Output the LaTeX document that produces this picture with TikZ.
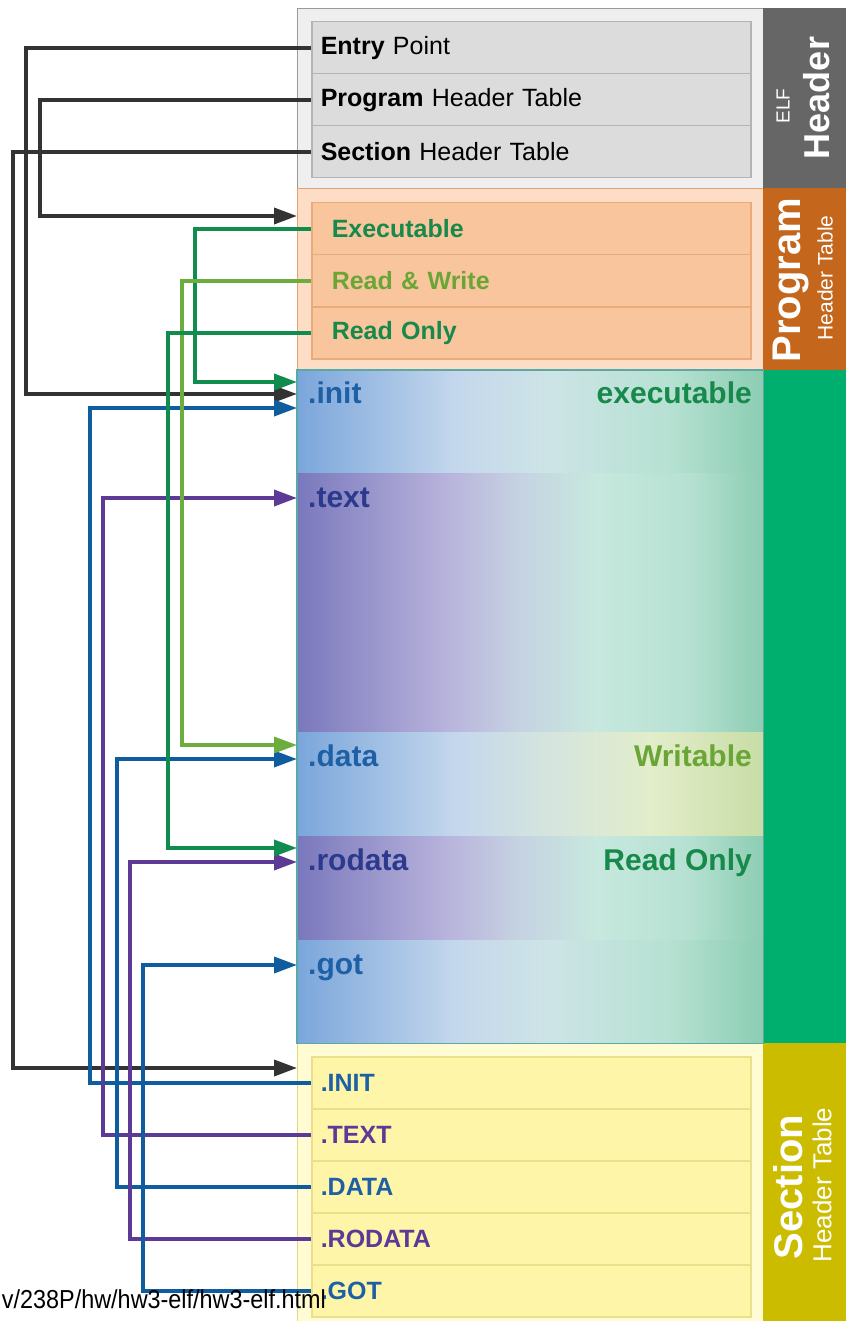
\documentclass[tikz,border=0pt]{standalone}
\usepackage{fontspec}
\setmainfont{Liberation Sans}
\usetikzlibrary{arrows.meta}
% region colours
\definecolor{elfbg}{HTML}{EFEFEF}
\definecolor{elfb}{HTML}{9A9A9A}
\definecolor{elfrow}{HTML}{DCDCDC}
\definecolor{elfrowb}{HTML}{B4B4B4}
\definecolor{elfside}{HTML}{666666}
\definecolor{phbg}{HTML}{FDDDC6}
\definecolor{phb}{HTML}{E3A070}
\definecolor{phrow}{HTML}{F9C59D}
\definecolor{phrowb}{HTML}{E9AA7C}
\definecolor{phside}{HTML}{C4661C}
\definecolor{secside}{HTML}{00AF6D}
\definecolor{secb}{HTML}{5AA9A6}
\definecolor{shbg}{HTML}{FFFBD2}
\definecolor{shb}{HTML}{E4D67A}
\definecolor{shrow}{HTML}{FFF5A8}
\definecolor{shrowb}{HTML}{ECDF8C}
\definecolor{shside}{HTML}{CCBC00}
% line colours
\definecolor{lblack}{HTML}{333333}
\definecolor{lgreen}{HTML}{0F8C4E}
\definecolor{llgreen}{HTML}{6BAE3E}
\definecolor{lblue}{HTML}{0F5C9F}
\definecolor{lpurple}{HTML}{5E3A97}
% text colours
\definecolor{tgreen}{HTML}{17894A}
\definecolor{tlgreen}{HTML}{6AA536}
\definecolor{tblue}{HTML}{1E60A6}
\definecolor{tnavy}{HTML}{2B3A8C}
\definecolor{tpurple}{HTML}{5A3A96}
% gradient colours
\definecolor{gblue}{HTML}{7BA6DB}
\definecolor{gblue2}{HTML}{C4D7EC}
\definecolor{gmid}{HTML}{CDE4E6}
\definecolor{ggreen1}{HTML}{B6E1D2}
\definecolor{ggreen}{HTML}{8CCDB3}
\definecolor{gpurple}{HTML}{7A78BD}
\definecolor{gpurple2}{HTML}{B8B3DB}
\definecolor{gpgrey}{HTML}{C6D3E2}
\definecolor{gmint}{HTML}{C7E8DE}
\definecolor{gyel1}{HTML}{E2EDCA}
\definecolor{gyel}{HTML}{C8DDA6}
\definecolor{gdmid}{HTML}{D5E5DE}
\pgfdeclarehorizontalshading{shblue}{100bp}{color(0bp)=(gblue); color(25bp)=(gblue); color(42bp)=(gblue2); color(52bp)=(gmid); color(65bp)=(ggreen1); color(75bp)=(ggreen); color(100bp)=(ggreen)}
\pgfdeclarehorizontalshading{shpurple}{100bp}{color(0bp)=(gpurple); color(25bp)=(gpurple); color(41bp)=(gpurple2); color(49bp)=(gpgrey); color(57bp)=(gmint); color(67bp)=(ggreen1); color(75bp)=(ggreen); color(100bp)=(ggreen)}
\pgfdeclarehorizontalshading{shdata}{100bp}{color(0bp)=(gblue); color(25bp)=(gblue); color(42bp)=(gblue2); color(52bp)=(gdmid); color(63bp)=(gyel1); color(75bp)=(gyel); color(100bp)=(gyel)}
\tikzset{
  region/.style={anchor=north west, inner sep=0pt, minimum width=466pt, line width=1.2pt},
  sidebar/.style={anchor=north west, inner sep=0pt, minimum width=83pt},
  rowbox/.style={anchor=north west, line width=1.5pt, minimum height=52pt, text width=421pt,
    inner xsep=9pt, inner ysep=0pt, align=left, font=\fontsize{25}{30}\selectfont},
  elfrowst/.style={rowbox, fill=elfrow, draw=elfrowb, text=black},
  phrowst/.style={rowbox, fill=phrow, draw=phrowb, text width=399pt, inner xsep=20pt, font=\fontsize{25}{30}\selectfont\bfseries},
  shrowst/.style={rowbox, fill=shrow, draw=shrowb, font=\fontsize{25}{30}\selectfont\bfseries},
  secblock/.style={anchor=north west, inner sep=0pt, minimum width=466pt, shade},
  secname/.style={anchor=base west, inner sep=0pt, font=\fontsize{30}{34}\selectfont\bfseries},
  seclabel/.style={anchor=base east, inner sep=0pt, font=\fontsize{30}{34}\selectfont\bfseries},
  sidebig/.style={rotate=90, text=white, inner sep=0pt, font=\fontsize{38}{42}\selectfont\bfseries},
  sidesmall/.style={rotate=90, text=white, inner sep=0pt, font=\fontsize{22}{26}\selectfont},
  conn/.style={line width=3.6pt, -{Triangle[length=23pt,width=16pt]}},
}
\begin{document}
\begin{tikzpicture}[x=1pt,y=-1pt]
\useasboundingbox[fill=white] (0,0) rectangle (846,1321);
% ---- regions
\node[region, fill=elfbg, draw=elfb, minimum height=180pt] (elfreg) at (297,8) {};
\node[region, fill=phbg, draw=phb, minimum height=182pt] (phreg) at (297,188) {};
\node[region, fill=shbg, draw=shb, minimum height=280pt] (shreg) at (297,1043) {};
\node[sidebar, fill=elfside, minimum height=180pt] (elfside) at (763,8) {};
\node[sidebar, fill=phside, minimum height=182pt] (phside) at (763,188) {};
\node[sidebar, fill=secside, minimum height=673pt] (secside) at (763,370) {};
\node[sidebar, fill=shside, minimum height=280pt] (shside) at (763,1043) {};
% ---- sections
\node[secblock, shading=shblue, minimum height=103pt] (sinit) at (297,370) {};
\node[secblock, shading=shpurple, minimum height=259pt] (stext) at (297,473) {};
\node[secblock, shading=shdata, minimum height=104pt] (sdata) at (297,732) {};
\node[secblock, shading=shpurple, minimum height=104pt] (srodata) at (297,836) {};
\node[secblock, shading=shblue, minimum height=103pt] (sgot) at (297,940) {};
\draw[secb, line width=1.5pt] (sinit.north west) rectangle (sgot.south east);
\node[secname, text=tblue] (linit) at (308,403) {.init};
\node[secname, text=tnavy] (ltext) at (308,507) {.text};
\node[secname, text=tblue] (ldata) at (308,766) {.data};
\node[secname, text=tnavy] (lrodata) at (308,870) {.rodata};
\node[secname, text=tblue] (lgot) at (308,974) {.got};
\node[seclabel, text=tgreen] (lexec) at (752,403) {executable};
\node[seclabel, text=tlgreen] (lwrit) at (752,766) {Writable};
\node[seclabel, text=tgreen] (lronly) at (752,870) {Read Only};
% ---- ELF header rows
\node[elfrowst] (entry) at (311,21) {\textbf{Entry} Point};
\node[elfrowst] (prog) at (311,73) {\textbf{Program} Header Table};
\node[elfrowst] (sect) at (311,125) {\textbf{Section} Header Table};
% ---- program header rows
\node[phrowst, text=tgreen] (exe) at (311,202) {Executable};
\node[phrowst, text=tlgreen] (rw) at (311,254) {Read \& Write};
\node[phrowst, text=tgreen] (ro) at (311,306) {Read Only};
% ---- section header rows
\node[shrowst, text=tblue] (INIT) at (311,1056) {.INIT};
\node[shrowst, text=tpurple] (TEXT) at (311,1108) {.TEXT};
\node[shrowst, text=tblue] (DATA) at (311,1160) {.DATA};
\node[shrowst, text=tpurple] (RODATA) at (311,1212) {.RODATA};
\node[shrowst, text=tblue] (GOT) at (311,1264) {.GOT};
% ---- sidebar labels
\node[sidesmall, font=\fontsize{19}{22}\selectfont] (elfa) at (783,106) {ELF};
\node[sidebig, font=\fontsize{36}{40}\selectfont\bfseries] (elfb) at (817,98) {Header};
\node[sidebig, font=\fontsize{40}{44}\selectfont\bfseries] (pha) at (791,280) {Program};
\node[sidesmall, font=\fontsize{21}{24}\selectfont] (phb) at (825,278) {Header Table};
\node[sidebig, font=\fontsize{40}{44}\selectfont\bfseries] (sha) at (788,1187) {Section};
\node[sidesmall, font=\fontsize{26}{30}\selectfont] (shb) at (822,1185) {Header Table};
% ---- arrow targets
\coordinate (tEntry) at (297,394);
\coordinate (tProg) at (297,216);
\coordinate (tSect) at (297,1068);
\coordinate (tExe) at (297,382);
\coordinate (tRW) at (297,745);
\coordinate (tRO) at (297,848);
\coordinate (tINIT) at (297,408);
\coordinate (tTEXT) at (297,498);
\coordinate (tDATA) at (297,759);
\coordinate (tRODATA) at (297,862);
\coordinate (tGOT) at (297,965);
% ---- connectors
\draw[conn, lblack] (entry.west) -- ++(-285,0) |- (tEntry);
\draw[conn, lblack] (prog.west) -- ++(-271,0) |- (tProg);
\draw[conn, lblack] (sect.west) -- ++(-298,0) |- (tSect);
\draw[conn, lblue] (INIT.west) -- ++(-221,0) |- (tINIT);
\draw[conn, lpurple] (TEXT.west) -- ++(-208,0) |- (tTEXT);
\draw[conn, lblue] (DATA.west) -- ++(-194,0) |- (tDATA);
\draw[conn, lpurple] (RODATA.west) -- ++(-181,0) |- (tRODATA);
\draw[conn, lblue] (GOT.west) -- ++(-168,0) |- (tGOT);
\draw[conn, lgreen] (exe.west) -- ++(-116,0) |- (tExe);
\draw[conn, llgreen] (rw.west) -- ++(-129,0) |- (tRW);
\draw[conn, lgreen] (ro.west) -- ++(-143,0) |- (tRO);
% ---- source note
\node[anchor=base east, inner sep=0pt, xscale=0.9, font=\fontsize{26}{30}\selectfont] (url) at (326,1308) {v/238P/hw/hw3-elf/hw3-elf.html};
\end{tikzpicture}
\end{document}
